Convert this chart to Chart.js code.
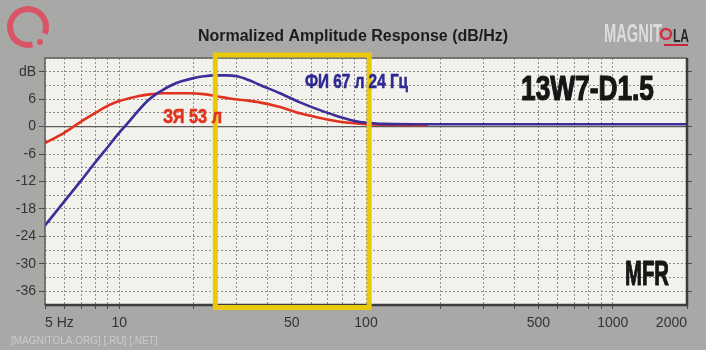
<!DOCTYPE html>
<html>
<head>
<meta charset="utf-8">
<script src="https://cdn.jsdelivr.net/npm/chart.js@4.4.1/dist/chart.umd.min.js"></script>
<style>
  html, body { margin: 0; padding: 0; background: #a8a8a6; }
  #wrap { width: 706px; height: 350px; }
</style>
</head>
<body>
<div id="wrap"><canvas id="c" width="706" height="350"></canvas></div>
<script>
// Closed box (ЗЯ 53 л) response, Hz / dB
const closedFreq = [5, 6, 7, 8, 9, 10, 11, 12, 13, 15, 19, 22, 25, 28.5, 33, 37, 44.8, 54, 65, 80, 92, 100, 117, 178];
const closedDb   = [-3.6, -1.3, 1.1, 3.0, 4.6, 5.6, 6.2, 6.7, 7.0, 7.3, 7.3, 7.1, 6.6, 6.1, 5.7, 5.3, 4.3, 2.9, 1.9, 1.0, 0.7, 0.5, 0.4, 0.3];

// Vented box (ФИ 67 л, 24 Гц) response, Hz / dB
const ventedFreq = [5, 6, 7, 8, 9, 10, 11, 12, 13, 14, 15, 16.5, 18, 20, 22, 24, 27, 30, 33, 37.2, 44.8, 54, 65, 78.4, 94.5, 104, 117, 200, 2000];
const ventedDb   = [-21.6, -16.3, -11.8, -7.8, -4.4, -1.3, 1.2, 3.6, 5.6, 7.0, 8.0, 9.2, 9.95, 10.6, 11.0, 11.2, 11.2, 11.0, 10.3, 9.1, 7.3, 5.3, 3.6, 2.1, 1.0, 0.8, 0.6, 0.5, 0.5];

// Axis ticks
const xTickValues = [5, 6, 7, 8, 9, 10, 20, 30, 40, 50, 60, 70, 80, 90, 100, 200, 300, 400, 500, 600, 700, 800, 900, 1000, 2000];
const xTickLabels = { 5: '5 Hz', 10: '10', 50: '50', 100: '100', 500: '500', 1000: '1000', 2000: '2000' };
const yTickValues = [-39, -36, -33, -30, -27, -24, -21, -18, -15, -12, -9, -6, -3, 0, 3, 6, 9, 12, 15];
const yTickLabels = { 12: 'dB', 6: '6', 0: '0', '-6': '-6', '-12': '-12', '-18': '-18', '-24': '-24', '-30': '-30', '-36': '-36' };

// Highlighted band, Hz
const bandRange = [24.5, 103];

const FONT = '"Liberation Sans", Arial, sans-serif';

function toPoints(xs, ys) { return xs.map((x, i) => ({ x, y: ys[i] })); }

function fitText(ctx, text, x, baseline, width, px, color, heavy) {
  ctx.save();
  ctx.font = 'bold ' + px + 'px ' + FONT;
  ctx.textAlign = 'left';
  ctx.textBaseline = 'alphabetic';
  const w = ctx.measureText(text).width;
  ctx.translate(x, baseline);
  ctx.scale(width / w, 1);
  ctx.fillStyle = color;
  ctx.fillText(text, 0, 0);
  if (heavy) {
    ctx.strokeStyle = color;
    ctx.lineWidth = heavy;
    ctx.lineJoin = 'round';
    ctx.strokeText(text, 0, 0);
  }
  ctx.restore();
}

const decor = {
  id: 'decor',
  beforeDraw(chart) {
    const { ctx, chartArea: a } = chart;
    ctx.save();
    ctx.fillStyle = '#a8a8a6';
    ctx.fillRect(0, 0, chart.width, chart.height);
    ctx.fillStyle = '#f2f1ec';
    ctx.fillRect(a.left, a.top, a.right - a.left, a.bottom - a.top);
    ctx.restore();
  },
  beforeDatasetsDraw(chart) {
    const { ctx, chartArea: a, scales } = chart;
    const y0 = scales.y.getPixelForValue(0);
    ctx.save();
    ctx.strokeStyle = '#5a5a5a';
    ctx.lineWidth = 1.3;
    ctx.beginPath();
    ctx.moveTo(a.left, y0);
    ctx.lineTo(a.right, y0);
    ctx.stroke();
    ctx.restore();
  },
  afterDatasetsDraw(chart) {
    const { ctx, chartArea: a, scales } = chart;
    ctx.save();
    // plot frame
    ctx.strokeStyle = '#606060';
    ctx.lineWidth = 1.5;
    ctx.beginPath();
    ctx.moveTo(a.left, a.bottom); ctx.lineTo(a.left, a.top); ctx.lineTo(a.right, a.top);
    ctx.stroke();
    ctx.strokeStyle = '#3c3c3c';
    ctx.lineWidth = 2.5;
    ctx.beginPath();
    ctx.moveTo(a.left, a.bottom); ctx.lineTo(a.right, a.bottom); ctx.lineTo(a.right, a.top);
    ctx.stroke();

    // yellow band frame
    const x1 = scales.x.getPixelForValue(bandRange[0]);
    const x2 = scales.x.getPixelForValue(bandRange[1]);
    ctx.strokeStyle = '#e9c90a';
    ctx.lineWidth = 5;
    ctx.strokeRect(x1, a.top - 3, x2 - x1, a.bottom - a.top + 5.5);

    // curve captions and model names
    fitText(ctx, 'ФИ 67 л 24 Гц', 305, 88, 103, 21, '#2e2a92', 0.6);
    fitText(ctx, 'ЗЯ 53 л', 163, 123, 59, 21, '#e2321c', 0.6);
    fitText(ctx, '13W7-D1.5', 521, 100, 133, 35, '#161616', 1.2);
    fitText(ctx, 'MFR', 625, 285, 44, 35, '#161616', 1.2);
    ctx.restore();
  },
  afterDraw(chart) {
    const { ctx } = chart;
    ctx.save();
    // ring logo
    ctx.strokeStyle = '#d85466';
    ctx.lineWidth = 6;
    ctx.beginPath();
    ctx.arc(28, 27, 18, Math.PI * 0.42, Math.PI * 2.12);
    ctx.stroke();
    ctx.fillStyle = '#d85466';
    ctx.beginPath();
    ctx.arc(40, 42, 3, 0, Math.PI * 2);
    ctx.fill();

    // site mark
    fitText(ctx, 'MAGNIT', 604, 42, 58, 26, '#dcdcdc');
    ctx.strokeStyle = '#d23040';
    ctx.lineWidth = 2.5;
    ctx.beginPath();
    ctx.arc(666, 34, 5, 0, Math.PI * 2);
    ctx.stroke();
    fitText(ctx, 'LA', 673, 42, 16, 18, '#2a2a2a');
    ctx.fillStyle = '#c8283a';
    ctx.fillRect(664, 44, 24, 2);

    ctx.font = '10px ' + FONT;
    ctx.fillStyle = '#c8ccd0';
    ctx.textBaseline = 'alphabetic';
    ctx.fillText('[MAGNITOLA.ORG] [.RU] [.NET]', 11, 344);
    ctx.restore();
  }
};

new Chart(document.getElementById('c'), {
  type: 'line',
  data: {
    datasets: [
      {
        label: 'ФИ 67 л 24 Гц',
        data: toPoints(ventedFreq, ventedDb),
        borderColor: '#3a2f98',
        borderWidth: 2.6,
        pointRadius: 0,
        cubicInterpolationMode: 'monotone',
        fill: false
      },
      {
        label: 'ЗЯ 53 л',
        data: toPoints(closedFreq, closedDb),
        borderColor: '#e0321f',
        borderWidth: 2.6,
        pointRadius: 0,
        cubicInterpolationMode: 'monotone',
        fill: false
      }
    ]
  },
  options: {
    responsive: false,
    devicePixelRatio: 1,
    animation: false,
    layout: { padding: 0 },
    plugins: {
      legend: { display: false },
      tooltip: { enabled: false },
      title: {
        display: true,
        text: 'Normalized Amplitude Response (dB/Hz)',
        color: '#1c1c1c',
        font: { family: FONT, size: 16, weight: 'bold' },
        padding: { top: 26.5, bottom: 12.3 }
      }
    },
    scales: {
      x: {
        type: 'logarithmic',
        min: 5,
        max: 2000,
        afterBuildTicks: s => { s.ticks = xTickValues.map(v => ({ value: v })); },
        afterFit: s => { s.height = 45; },
        ticks: {
          autoSkip: false,
          maxRotation: 0,
          align: 'inner',
          padding: 6,
          color: '#333333',
          font: { family: FONT, size: 14 },
          callback: v => xTickLabels[v] || ''
        },
        grid: { color: '#8e8e8e', lineWidth: 1, tickLength: 4, tickColor: '#4a4a4a' },
        border: { display: false, dash: [2, 2] }
      },
      y: {
        type: 'linear',
        min: -39,
        max: 15,
        afterBuildTicks: s => { s.ticks = yTickValues.map(v => ({ value: v })); },
        afterFit: s => { s.width = 45; },
        ticks: {
          autoSkip: false,
          padding: 3,
          color: '#333333',
          font: { family: FONT, size: 14 },
          callback: v => yTickLabels[v] || ''
        },
        grid: {
          color: '#8e8e8e',
          lineWidth: 1,
          tickLength: 6,
          tickColor: c => (yTickLabels[c.tick && c.tick.value] ? '#4a4a4a' : 'rgba(0,0,0,0)')
        },
        border: { display: false, dash: [2, 2] }
      },
      y2: {
        type: 'linear',
        position: 'right',
        min: -39,
        max: 15,
        afterBuildTicks: s => { s.ticks = yTickValues.map(v => ({ value: v })); },
        afterFit: s => { s.width = 19; },
        ticks: { display: false },
        grid: {
          drawOnChartArea: false,
          tickLength: 5,
          tickColor: c => (yTickLabels[c.tick && c.tick.value] ? '#4a4a4a' : 'rgba(0,0,0,0)')
        },
        border: { display: false }
      }
    }
  },
  plugins: [decor]
});
</script>
</body>
</html>
